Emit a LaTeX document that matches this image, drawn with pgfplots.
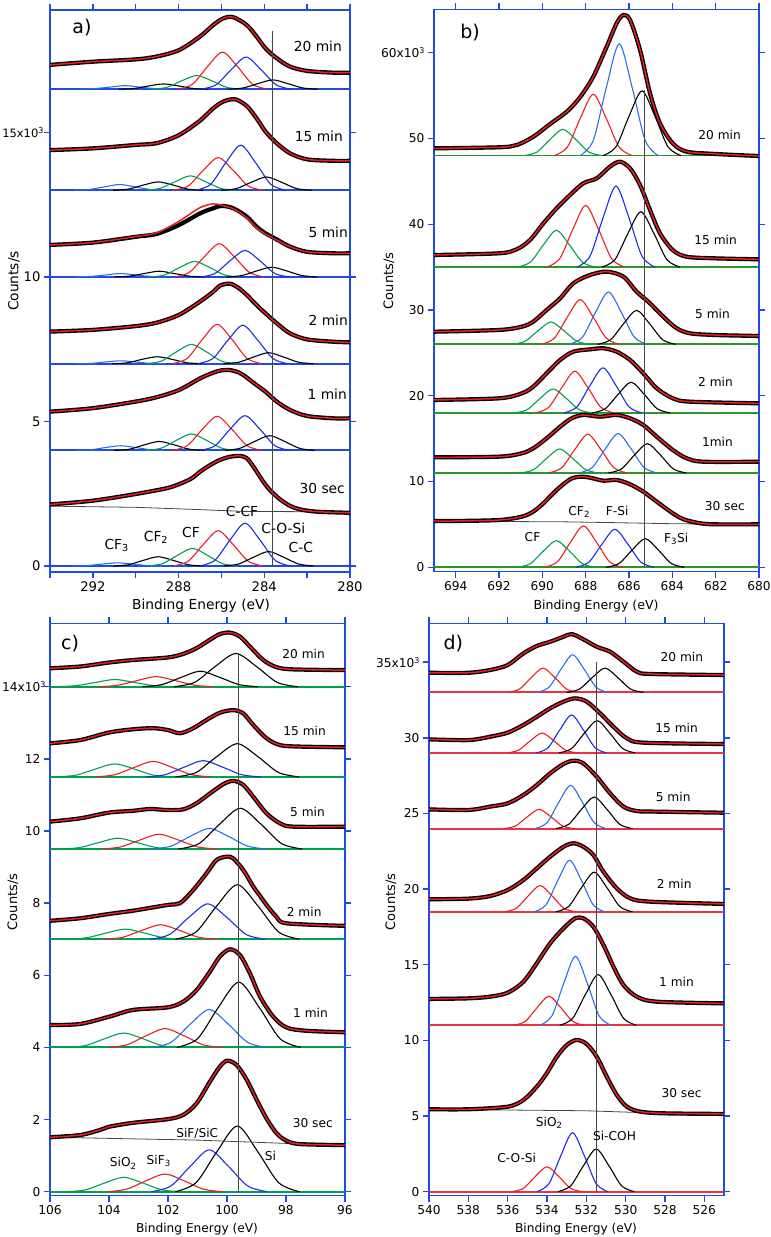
\documentclass[border=0pt]{standalone}
\usepackage{fontspec}
\setmainfont{DejaVu Sans}
\usepackage{pgfplots}
\pgfplotsset{compat=1.18}
\usepackage{pgfplotstable}

\definecolor{axb}{RGB}{30,75,225}
\definecolor{cblue}{RGB}{25,45,230}
\definecolor{lblue}{RGB}{40,110,235}
\definecolor{cgreen}{RGB}{0,160,80}
\definecolor{bgreen}{RGB}{40,150,40}
\definecolor{cred}{RGB}{235,30,35}
\definecolor{dred}{RGB}{235,50,70}
\definecolor{vline}{RGB}{70,70,70}

\newcommand{\fa}{\fontsize{13.2}{15}\selectfont}
\newcommand{\fb}{\fontsize{12.2}{14}\selectfont}
\newcommand{\cube}{\raisebox{0.6ex}{\fontsize{8}{8}\selectfont 3}}

\pgfplotsset{
 myax/.style={scale only axis, x dir=reverse,
   axis line style={draw=axb,line width=1.4pt},
   tick style={draw=axb,line width=1.4pt},
   tick align=outside, major tick length=6pt,
   xtick pos=both, ytick pos=both, xticklabel pos=lower, yticklabel pos=left,
   /pgf/number format/assume math mode=true, minor tick num=0},
 dat/.style={black, line width=4.2pt, smooth, no markers, line join=round},
 fit/.style={cred, line width=1.5pt, smooth, no markers},
 cp/.style={line width=1.1pt, smooth, no markers},
 bl/.style={line width=2pt, no markers},
 vl/.style={vline, line width=0.8pt, no markers},
}

% ---------- panel a data ----------
\pgfplotstableread{
x y
294 2.13
292 2.26
290 2.49
288.56 2.69
287.98 2.83
287.39 3.03
287 3.26
286.53 3.49
286.07 3.67
285.6 3.78
285.14 3.81
284.82 3.73
284.51 3.44
284.05 2.92
283.74 2.63
283.27 2.31
282.8 2.08
282.34 1.96
281.56 1.88
280 1.84
}\aS
\pgfplotstableread{
x y
294 5.34
292 5.46
290 5.69
289.02 5.84
287.98 6.09
287 6.49
286.38 6.69
286 6.77
285.6 6.78
285.2 6.70
284.98 6.61
284.36 6.26
283.94 6.03
283.42 5.69
282.8 5.40
282 5.19
280.78 5.11
280 5.11
}\aA
\pgfplotstableread{
x y
294 8.11
292 8.17
290 8.30
289.02 8.42
287.98 8.69
287 9.15
286.38 9.49
286.07 9.70
285.6 9.77
285.2 9.62
284.82 9.38
284.36 9.03
283.94 8.74
283.42 8.40
282.8 8.05
282 7.84
280.78 7.76
280 7.74
}\aB
\pgfplotstableread{
x y
294 11.11
292 11.19
290 11.39
289.02 11.49
287.98 11.80
287 12.20
286.38 12.38
285.99 12.46
285.45 12.38
284.82 12.09
284.36 11.74
283.94 11.51
283.42 11.30
282.8 11.05
282 10.87
280.78 10.82
280 10.82
}\aC
\pgfplotstableread{
x y
294 11.11
292 11.19
290 11.40
289.02 11.53
287.98 11.93
287 12.40
286.38 12.53
285.99 12.48
285.45 12.36
284.82 12.05
284.36 11.70
283.94 11.48
283.42 11.28
282.8 11.05
282 10.87
280.78 10.82
280 10.82
}\aF
\pgfplotstableread{
x y
294 14.39
292 14.45
290 14.57
289.02 14.63
287.98 14.91
287 15.41
286.38 15.84
285.91 16.07
285.37 16.15
284.82 15.92
284.36 15.49
283.94 15.03
283.42 14.63
282.8 14.28
282 14.07
280.78 14.02
280 14.02
}\aD
\pgfplotstableread{
x y
294 17.34
292 17.45
290 17.53
289.02 17.63
287.98 17.85
287 18.32
286.38 18.72
285.91 18.95
285.45 18.99
284.82 18.72
284.36 18.32
283.94 17.91
283.42 17.57
282.8 17.28
282 17.13
280.78 17.07
280 17.07
}\aE

% ---------- panel b data ----------
\pgfplotstableread{
x y
695 5.40
694 5.40
692 5.51
690.95 5.90
690.42 6.49
689.95 7.46
689.34 9.01
688.72 10.26
688.26 10.56
687.8 10.45
687.18 10.10
686.57 10.18
685.98 9.71
685.34 8.82
684.72 7.65
683.98 6.30
683.49 5.60
682.72 5.13
682 5.01
680 5.01
}\bS
\pgfplotstableread{
x y
695 12.82
692 12.90
690.95 13.29
690.42 13.87
689.8 15.04
689.18 16.39
688.65 17.37
688.11 17.76
687.34 17.56
686.57 17.76
685.95 17.37
685.34 16.59
684.72 15.23
683.98 13.68
683.34 12.71
682.57 12.31
680 12.31
}\bA
\pgfplotstableread{
x y
695 19.51
692 19.70
690.95 20.28
690.42 21.06
689.8 22.62
689.18 24.17
688.57 25.14
687.8 25.41
687.18 25.53
686.57 25.14
685.95 24.17
685.34 22.62
684.72 20.87
683.98 19.70
683.18 19.31
680 19.12
}\bB
\pgfplotstableread{
x y
695 27.47
692 27.67
690.95 28.05
690.42 28.64
689.8 30.00
689.18 31.36
688.57 33.11
687.8 34.08
687.03 34.47
686.26 33.89
685.65 32.14
685.03 30.78
684.42 29.22
683.8 27.87
683.18 27.28
682 27.08
680 26.97
}\bC
\pgfplotstableread{
x y
695 36.41
692 36.61
691.18 37.08
690.57 38.16
689.95 40.11
689.34 41.86
688.72 43.41
688.11 44.77
687.49 45.35
686.88 46.71
686.42 47.29
685.95 46.52
685.49 44.57
685.03 41.66
684.57 38.94
683.98 36.99
683.34 36.21
682 36.02
680 35.91
}\bD
\pgfplotstableread{
x y
695 48.85
692 48.97
691.18 49.24
690.42 50.20
689.65 51.67
688.88 53.10
688.26 54.80
687.65 57.20
687.03 60.70
686.57 63.43
686.26 64.39
685.95 63.81
685.49 60.31
685.03 55.26
684.57 51.77
683.98 49.43
683.34 48.46
682 48.19
680 47.95
}\bE

% ---------- panel c data ----------
\pgfplotstableread{
x y
106 1.51
104.98 1.57
104.31 1.71
104 1.80
103.18 1.91
102.01 2.01
101.48 2.13
101.03 2.45
100.58 3.05
100.24 3.47
99.99 3.63
99.67 3.51
99.33 3.10
98.99 2.54
98.66 2.03
98.32 1.62
97.98 1.41
97.53 1.32
96 1.29
}\cS
\pgfplotstableread{
x y
106 4.62
104.98 4.65
104 4.85
103.18 5.04
102.01 5.11
101.48 5.27
101.03 5.59
100.58 6.10
100.24 6.52
99.9 6.72
99.56 6.56
99.22 6.05
98.88 5.41
98.43 4.85
97.98 4.55
97.3 4.46
96 4.42
}\cA
\pgfplotstableread{
x y
106 7.51
104.98 7.58
104 7.70
103.18 7.79
102.01 7.95
101.59 8.00
101.14 8.37
100.69 8.83
100.35 9.20
99.99 9.29
99.79 9.24
99.45 8.92
99.11 8.46
98.88 8.20
98.66 7.95
98.32 7.62
97.98 7.44
96 7.37
}\cB
\pgfplotstableread{
x y
106 10.26
104.98 10.35
104 10.51
103.18 10.56
102.61 10.61
102.01 10.58
101.48 10.60
101.03 10.77
100.58 11.04
100.12 11.30
99.79 11.39
99.45 11.28
99.11 10.95
98.66 10.49
98.2 10.21
97.75 10.12
96 10.12
}\cC
\pgfplotstableread{
x y
106 12.43
104.98 12.52
104 12.73
103.18 12.82
102.5 12.85
102.01 12.80
101.59 12.71
101.14 12.85
100.69 13.08
100.24 13.28
99.79 13.35
99.45 13.26
99.11 12.94
98.66 12.57
98.2 12.38
97.53 12.34
96 12.32
}\cD
\pgfplotstableread{
x y
106 14.51
104.98 14.56
104 14.67
103.18 14.74
102.01 14.81
101.48 14.91
101.03 15.07
100.58 15.30
100.24 15.46
99.9 15.50
99.56 15.39
99.22 15.11
98.77 14.74
98.32 14.54
97.75 14.48
96 14.46
}\cE

% ---------- panel d data ----------
\pgfplotstableread{
x y
540 5.45
538 5.45
536 5.62
535.2 6.06
534.52 6.94
534.01 7.83
533.5 8.92
532.99 9.70
532.49 10.03
531.98 9.76
531.47 8.92
530.96 7.60
530.45 6.39
529.94 5.62
529.26 5.29
528 5.18
525 5.14
}\dS
\pgfplotstableread{
x y
540 12.74
538 12.78
536.9 12.89
536 13.15
535.2 13.88
534.52 15.10
533.84 16.42
533.16 17.41
532.57 18.07
532.15 18.07
531.64 17.51
531.13 16.31
530.62 14.87
530.11 13.66
529.43 12.89
528.41 12.56
525 12.45
}\dA
\pgfplotstableread{
x y
540 19.33
538 19.37
536.9 19.54
536 19.94
535.2 20.60
534.52 21.37
533.84 22.14
533.16 22.80
532.65 23.03
532.15 22.80
531.64 22.25
531.13 21.15
530.45 20.05
529.77 19.39
528.75 19.17
525 19.02
}\dB
\pgfplotstableread{
x y
540 25.27
538 25.23
536.9 25.45
536 25.67
535.2 26.22
534.52 26.88
533.84 27.65
533.16 28.27
532.65 28.49
532.15 28.31
531.47 27.43
530.79 26.33
530.11 25.45
529.43 25.16
528.41 25.12
525 25.05
}\dC
\pgfplotstableread{
x y
540 29.90
538 29.85
536.9 30.07
536 30.34
535.2 30.85
534.52 31.39
533.84 31.95
533.16 32.39
532.57 32.61
531.98 32.39
531.3 31.62
530.62 30.73
529.94 29.97
529.09 29.68
525 29.59
}\dD
\pgfplotstableread{
x y
540 34.30
538 34.30
536.9 34.48
536 34.81
535.2 35.58
534.52 36.07
533.84 36.35
533.16 36.68
532.74 36.86
532.15 36.51
531.47 36.02
530.79 35.69
530.11 35.03
529.43 34.37
528.75 34.22
525 34.15
}\dE

\begin{document}
\begin{tikzpicture}
\useasboundingbox (0pt,0pt) rectangle (771pt,1237pt);

% ================= PANEL A =================
\begin{axis}[myax, at={(50pt,665pt)}, anchor=south west, width=300pt, height=562pt,
  xmin=280, xmax=294, ymin=-0.2076, ymax=19.239,
  xtick={280,282,284,286,288,290,292,294}, xticklabels={280,,284,,288,,292,},
  ytick={0,5,10,15}, yticklabels={0,5,10,{\fontsize{11.5}{13}\selectfont 15x10\cube\kern-3pt}},
  ticklabel style={font=\fa}]
\addplot[bl,axb] coordinates {(280,0) (294,0)};
\addplot[bl,axb] coordinates {(280,4) (294,4)};
\addplot[bl,axb] coordinates {(280,7) (294,7)};
\addplot[bl,axb] coordinates {(280,10) (294,10)};
\addplot[bl,axb] coordinates {(280,13) (294,13)};
\addplot[bl,axb] coordinates {(280,16.5) (294,16.5)};
% 30 sec components
\addplot[cp,lblue] coordinates {(288.75,0) (289.45,0.015) (290.15,0.067) (290.85,0.11) (291.55,0.067) (292.25,0.015) (292.95,0)};
\addplot[cp,black] coordinates {(286.85,0) (287.55,0.043) (288.25,0.194) (288.95,0.32) (289.65,0.194) (290.35,0.043) (291.05,0)};
\addplot[cp,cgreen] coordinates {(285.25,0) (285.95,0.082) (286.65,0.37) (287.35,0.61) (288.05,0.37) (288.75,0.082) (289.45,0)};
\addplot[cp,cred] coordinates {(284.05,0) (284.75,0.165) (285.45,0.741) (286.15,1.22) (286.85,0.741) (287.55,0.165) (288.25,0)};
\addplot[cp,cblue] coordinates {(282.8,0) (283.5,0.2) (284.2,0.898) (284.9,1.48) (285.6,0.898) (286.3,0.2) (287,0)};
\addplot[cp,black] coordinates {(281.7,0) (282.4,0.068) (283.1,0.304) (283.8,0.5) (284.5,0.304) (285.2,0.068) (285.9,0)};
% 1 min
\addplot[cp,lblue] coordinates {(288.6,4) (289.3,4.02) (290,4.1) (290.7,4.16) (291.4,4.1) (292.1,4.02) (292.8,4)};
\addplot[cp,black] coordinates {(286.8,4) (287.5,4.04) (288.2,4.19) (288.9,4.31) (289.6,4.19) (290.3,4.04) (291,4)};
\addplot[cp,cgreen] coordinates {(285.3,4) (286,4.08) (286.7,4.35) (287.4,4.57) (288.1,4.35) (288.8,4.08) (289.5,4)};
\addplot[cp,cred] coordinates {(284.1,4) (284.8,4.16) (285.5,4.72) (286.2,5.18) (286.9,4.72) (287.6,4.16) (288.3,4)};
\addplot[cp,cblue] coordinates {(282.8,4) (283.5,4.16) (284.2,4.73) (284.9,5.2) (285.6,4.73) (286.3,4.16) (287,4)};
\addplot[cp,black] coordinates {(281.65,4) (282.35,4.07) (283.05,4.31) (283.75,4.51) (284.45,4.31) (285.15,4.07) (285.85,4)};
% 2 min
\addplot[cp,lblue] coordinates {(288.6,7) (289.3,7.01) (290,7.06) (290.7,7.1) (291.4,7.06) (292.1,7.01) (292.8,7)};
\addplot[cp,black] coordinates {(286.9,7) (287.6,7.03) (288.3,7.15) (289,7.24) (289.7,7.15) (290.4,7.03) (291.1,7)};
\addplot[cp,cgreen] coordinates {(285.3,7) (286,7.09) (286.7,7.41) (287.4,7.67) (288.1,7.41) (288.8,7.09) (289.5,7)};
\addplot[cp,cred] coordinates {(284.1,7) (284.8,7.18) (285.5,7.83) (286.2,8.36) (286.9,7.83) (287.6,7.18) (288.3,7)};
\addplot[cp,cblue] coordinates {(282.9,7) (283.6,7.18) (284.3,7.81) (285,8.33) (285.7,7.81) (286.4,7.18) (287.1,7)};
\addplot[cp,black] coordinates {(281.7,7) (282.4,7.05) (283.1,7.23) (283.8,7.38) (284.5,7.23) (285.2,7.05) (285.9,7)};
% 5 min
\addplot[cp,lblue] coordinates {(288.6,10) (289.3,10.02) (290,10.07) (290.7,10.12) (291.4,10.07) (292.1,10.02) (292.8,10)};
\addplot[cp,black] coordinates {(286.8,10) (287.5,10.03) (288.2,10.12) (288.9,10.2) (289.6,10.12) (290.3,10.03) (291,10)};
\addplot[cp,cgreen] coordinates {(285.15,10) (285.85,10.07) (286.55,10.33) (287.25,10.54) (287.95,10.33) (288.65,10.07) (289.35,10)};
\addplot[cp,cred] coordinates {(284,10) (284.7,10.16) (285.4,10.7) (286.1,11.15) (286.8,10.7) (287.5,10.16) (288.2,10)};
\addplot[cp,cblue] coordinates {(282.8,10) (283.5,10.12) (284.2,10.56) (284.9,10.92) (285.6,10.56) (286.3,10.12) (287,10)};
\addplot[cp,black] coordinates {(281.55,10) (282.25,10.05) (282.95,10.21) (283.65,10.34) (284.35,10.21) (285.05,10.05) (285.75,10)};
% 15 min
\addplot[cp,lblue] coordinates {(288.65,13) (289.35,13.03) (290.05,13.12) (290.75,13.2) (291.45,13.12) (292.15,13.03) (292.85,13)};
\addplot[cp,black] coordinates {(286.85,13) (287.55,13.04) (288.25,13.18) (288.95,13.29) (289.65,13.18) (290.35,13.04) (291.05,13)};
\addplot[cp,cgreen] coordinates {(285.35,13) (286.05,13.07) (286.75,13.3) (287.45,13.5) (288.15,13.3) (288.85,13.07) (289.55,13)};
\addplot[cp,cred] coordinates {(284.05,13) (284.75,13.15) (285.45,13.69) (286.15,14.13) (286.85,13.69) (287.55,13.15) (288.25,13)};
\addplot[cp,cblue] coordinates {(283,13) (283.7,13.21) (284.4,13.95) (285.1,14.56) (285.8,13.95) (286.5,13.21) (287.2,13)};
\addplot[cp,black] coordinates {(281.8,13) (282.5,13.06) (283.2,13.28) (283.9,13.46) (284.6,13.28) (285.3,13.06) (286,13)};
% 20 min
\addplot[cp,lblue] coordinates {(288.4,16.5) (289.1,16.52) (289.8,16.57) (290.5,16.62) (291.2,16.57) (291.9,16.52) (292.6,16.5)};
\addplot[cp,black] coordinates {(286.6,16.5) (287.3,16.52) (288,16.61) (288.7,16.68) (289.4,16.61) (290.1,16.52) (290.8,16.5)};
\addplot[cp,cgreen] coordinates {(285.05,16.5) (285.75,16.56) (286.45,16.79) (287.15,16.97) (287.85,16.79) (288.55,16.56) (289.25,16.5)};
\addplot[cp,cred] coordinates {(283.85,16.5) (284.55,16.67) (285.25,17.28) (285.95,17.78) (286.65,17.28) (287.35,16.67) (288.05,16.5)};
\addplot[cp,cblue] coordinates {(282.75,16.5) (283.45,16.65) (284.15,17.17) (284.85,17.61) (285.55,17.17) (286.25,16.65) (286.95,16.5)};
\addplot[cp,black] coordinates {(281.5,16.5) (282.2,16.54) (282.9,16.69) (283.6,16.82) (284.3,16.69) (285,16.54) (285.7,16.5)};
% background, data, fits
\addplot[vl] coordinates {(294,2.07) (290,2.03) (287,1.95) (285,1.89) (280,1.87)};
\addplot[dat] table {\aS}; \addplot[fit] table {\aS};
\addplot[dat] table {\aA}; \addplot[fit] table {\aA};
\addplot[dat] table {\aB}; \addplot[fit] table {\aB};
\addplot[dat] table {\aC}; \addplot[fit] table {\aF};
\addplot[dat] table {\aD}; \addplot[fit] table {\aD};
\addplot[dat] table {\aE}; \addplot[fit] table {\aE};
\addplot[vl] coordinates {(283.63,0) (283.63,18.52)};
\end{axis}

% ================= PANEL B =================
\begin{axis}[myax, at={(434pt,665.3pt)}, anchor=south west, width=325pt, height=562.4pt,
  xmin=680, xmax=695, ymin=-0.513, ymax=65.06,
  xtick={680,682,...,694},
  ytick={0,10,...,60}, yticklabels={0,10,20,30,40,50,{60x10\cube}},
  ticklabel style={font=\fb}]
\addplot[bl,bgreen,line width=1.6pt] coordinates {(680,0) (695,0)};
\addplot[bl,bgreen,line width=1.6pt] coordinates {(680,11) (695,11)};
\addplot[bl,bgreen,line width=1.6pt] coordinates {(680,18) (695,18)};
\addplot[bl,bgreen,line width=1.6pt] coordinates {(680,26) (695,26)};
\addplot[bl,bgreen,line width=1.6pt] coordinates {(680,35) (695,35)};
\addplot[bl,bgreen,line width=1.6pt] coordinates {(680,48) (695,48)};
% 30 sec
\addplot[cp,cgreen] coordinates {(687.55,0) (688.15,0.42) (688.75,1.89) (689.35,3.11) (689.95,1.89) (690.55,0.42) (691.15,0)};
\addplot[cp,cred] coordinates {(686.3,0) (686.9,0.65) (687.5,2.93) (688.1,4.82) (688.7,2.93) (689.3,0.65) (689.9,0)};
\addplot[cp,cblue] coordinates {(684.85,0) (685.45,0.6) (686.05,2.69) (686.65,4.43) (687.25,2.69) (687.85,0.6) (688.45,0)};
\addplot[cp,black] coordinates {(683.45,0) (684.05,0.45) (684.65,2.03) (685.25,3.34) (685.85,2.03) (686.45,0.45) (687.05,0)};
% 1 min
\addplot[cp,cgreen] coordinates {(687.4,11) (688,11.38) (688.6,12.7) (689.2,13.8) (689.8,12.7) (690.4,11.38) (691,11)};
\addplot[cp,cred] coordinates {(686.1,11) (686.7,11.61) (687.3,13.74) (687.9,15.51) (688.5,13.74) (689.1,11.61) (689.7,11)};
\addplot[cp,lblue] coordinates {(684.7,11) (685.3,11.62) (685.9,13.79) (686.5,15.59) (687.1,13.79) (687.7,11.62) (688.3,11)};
\addplot[cp,black] coordinates {(683.35,11) (683.95,11.46) (684.55,13.08) (685.15,14.42) (685.75,13.08) (686.35,11.46) (686.95,11)};
% 2 min
\addplot[cp,cgreen] coordinates {(687.7,18) (688.3,18.38) (688.9,19.7) (689.5,20.8) (690.1,19.7) (690.7,18.38) (691.3,18)};
\addplot[cp,cred] coordinates {(686.7,18) (687.3,18.66) (687.9,20.95) (688.5,22.86) (689.1,20.95) (689.7,18.66) (690.3,18)};
\addplot[cp,cblue] coordinates {(685.4,18) (686,18.71) (686.6,21.19) (687.2,23.25) (687.8,21.19) (688.4,18.71) (689,18)};
\addplot[cp,black] coordinates {(684.1,18) (684.7,18.48) (685.3,20.17) (685.9,21.58) (686.5,20.17) (687.1,18.48) (687.7,18)};
% 5 min
\addplot[cp,cgreen] coordinates {(687.8,26) (688.4,26.35) (689,27.58) (689.6,28.6) (690.2,27.58) (690.8,26.35) (691.4,26)};
\addplot[cp,cred] coordinates {(686.45,26) (687.05,26.7) (687.65,29.16) (688.25,31.21) (688.85,29.16) (689.45,26.7) (690.05,26)};
\addplot[cp,lblue] coordinates {(685.15,26) (685.75,26.82) (686.35,29.7) (686.95,32.1) (687.55,29.7) (688.15,26.82) (688.75,26)};
\addplot[cp,black] coordinates {(683.85,26) (684.45,26.53) (685.05,28.4) (685.65,29.96) (686.25,28.4) (686.85,26.53) (687.45,26)};
% 15 min
\addplot[cp,cgreen] coordinates {(687.55,35) (688.15,35.58) (688.75,37.6) (689.35,39.28) (689.95,37.6) (690.55,35.58) (691.15,35)};
\addplot[cp,cred] coordinates {(686.2,35) (686.8,35.97) (687.4,39.36) (688,42.19) (688.6,39.36) (689.2,35.97) (689.8,35)};
\addplot[cp,cblue] coordinates {(684.8,35) (685.4,36.27) (686,40.73) (686.6,44.44) (687.2,40.73) (687.8,36.27) (688.4,35)};
\addplot[cp,black] coordinates {(683.65,35) (684.25,35.87) (684.85,38.92) (685.45,41.45) (686.05,38.92) (686.65,35.87) (687.25,35)};
% 20 min
\addplot[cp,cgreen] coordinates {(687.25,48) (687.85,48.41) (688.45,49.86) (689.05,51.07) (689.65,49.86) (690.25,48.41) (690.85,48)};
\addplot[cp,cred] coordinates {(685.85,48) (686.45,48.97) (687.05,52.34) (687.65,55.15) (688.25,52.34) (688.85,48.97) (689.45,48)};
\addplot[cp,lblue] coordinates {(684.65,48) (685.25,49.76) (685.85,55.9) (686.45,61.02) (687.05,55.9) (687.65,49.76) (688.25,48)};
\addplot[cp,black] coordinates {(683.6,48) (684.2,49.02) (684.8,52.58) (685.4,55.54) (686,52.58) (686.6,49.02) (687.2,48)};
\addplot[vl] coordinates {(695,5.38) (689,5.3) (687,5.22) (684,5.08) (680,5.0)};
\addplot[dat] table {\bS}; \addplot[fit] table {\bS};
\addplot[dat] table {\bA}; \addplot[fit] table {\bA};
\addplot[dat] table {\bB}; \addplot[fit] table {\bB};
\addplot[dat] table {\bC}; \addplot[fit] table {\bC};
\addplot[dat] table {\bD}; \addplot[fit] table {\bD};
\addplot[dat] table {\bE}; \addplot[fit] table {\bE};
\addplot[vl] coordinates {(685.31,0) (685.31,55.65)};
\end{axis}

% ================= PANEL C =================
\begin{axis}[myax, at={(50pt,41.3pt)}, anchor=south west, width=295pt, height=572.4pt,
  xmin=96, xmax=106, ymin=-0.111, ymax=15.758,
  xtick={96,98,...,106},
  ytick={0,2,...,14}, yticklabels={0,2,4,6,8,10,12,{14x10\cube\kern-5pt}},
  ticklabel style={font=\fb}]
\addplot[bl,cgreen] coordinates {(96,0) (106,0)};
\addplot[bl,cgreen] coordinates {(96,4) (106,4)};
\addplot[bl,cgreen] coordinates {(96,7) (106,7)};
\addplot[bl,cgreen] coordinates {(96,9.5) (106,9.5)};
\addplot[bl,cgreen] coordinates {(96,11.5) (106,11.5)};
\addplot[bl,cgreen] coordinates {(96,14) (106,14)};
% 30 sec
\addplot[cp,cgreen] coordinates {(101.55,0) (102.2,0.05) (102.85,0.24) (103.5,0.4) (104.15,0.24) (104.8,0.05) (105.45,0)};
\addplot[cp,cred] coordinates {(100.15,0) (100.8,0.07) (101.45,0.3) (102.1,0.49) (102.75,0.3) (103.4,0.07) (104.05,0)};
\addplot[cp,cblue] coordinates {(98.65,0) (99.3,0.16) (99.95,0.7) (100.6,1.16) (101.25,0.7) (101.9,0.16) (102.55,0)};
\addplot[cp,black] coordinates {(97.55,0) (98.25,0.25) (98.95,1.1) (99.65,1.82) (100.35,1.1) (101.05,0.25) (101.75,0)};
% 1 min
\addplot[cp,cgreen] coordinates {(101.55,4) (102.2,4.05) (102.85,4.24) (103.5,4.4) (104.15,4.24) (104.8,4.05) (105.45,4)};
\addplot[cp,cred] coordinates {(100.15,4) (100.8,4.07) (101.45,4.32) (102.1,4.52) (102.75,4.32) (103.4,4.07) (104.05,4)};
\addplot[cp,lblue] coordinates {(98.65,4) (99.3,4.14) (99.95,4.64) (100.6,5.05) (101.25,4.64) (101.9,4.14) (102.55,4)};
\addplot[cp,black] coordinates {(97.5,4) (98.2,4.24) (98.9,5.1) (99.6,5.81) (100.3,5.1) (101,4.24) (101.7,4)};
% 2 min
\addplot[cp,cgreen] coordinates {(101.5,7) (102.15,7.04) (102.8,7.17) (103.45,7.28) (104.1,7.17) (104.75,7.04) (105.4,7)};
\addplot[cp,cred] coordinates {(100.3,7) (100.95,7.05) (101.6,7.24) (102.25,7.4) (102.9,7.24) (103.55,7.05) (104.2,7)};
\addplot[cp,cblue] coordinates {(98.7,7) (99.35,7.13) (100,7.6) (100.65,7.98) (101.3,7.6) (101.95,7.13) (102.6,7)};
\addplot[cp,black] coordinates {(97.55,7) (98.25,7.2) (98.95,7.92) (99.65,8.51) (100.35,7.92) (101.05,7.2) (101.75,7)};
% 5 min
\addplot[cp,cgreen] coordinates {(101.75,9.5) (102.4,9.54) (103.05,9.68) (103.7,9.8) (104.35,9.68) (105,9.54) (105.65,9.5)};
\addplot[cp,cred] coordinates {(100.35,9.5) (101,9.56) (101.65,9.75) (102.3,9.91) (102.95,9.75) (103.6,9.56) (104.25,9.5)};
\addplot[cp,lblue] coordinates {(98.65,9.5) (99.3,9.58) (99.95,9.85) (100.6,10.07) (101.25,9.85) (101.9,9.58) (102.55,9.5)};
\addplot[cp,black] coordinates {(97.45,9.5) (98.15,9.65) (98.85,10.19) (99.55,10.63) (100.25,10.19) (100.95,9.65) (101.65,9.5)};
% 15 min
\addplot[cp,cgreen] coordinates {(101.85,11.5) (102.5,11.55) (103.15,11.72) (103.8,11.86) (104.45,11.72) (105.1,11.55) (105.75,11.5)};
\addplot[cp,cred] coordinates {(100.55,11.5) (101.2,11.56) (101.85,11.76) (102.5,11.93) (103.15,11.76) (103.8,11.56) (104.45,11.5)};
\addplot[cp,cblue] coordinates {(98.85,11.5) (99.5,11.56) (100.15,11.77) (100.8,11.95) (101.45,11.77) (102.1,11.56) (102.75,11.5)};
\addplot[cp,black] coordinates {(97.55,11.5) (98.25,11.62) (98.95,12.06) (99.65,12.42) (100.35,12.06) (101.05,11.62) (101.75,11.5)};
% 20 min
\addplot[cp,cgreen] coordinates {(101.85,14) (102.5,14.03) (103.15,14.12) (103.8,14.2) (104.45,14.12) (105.1,14.03) (105.75,14)};
\addplot[cp,cred] coordinates {(100.45,14) (101.1,14.04) (101.75,14.17) (102.4,14.28) (103.05,14.17) (103.7,14.04) (104.35,14)};
\addplot[cp,black] coordinates {(98.95,14) (99.6,14.06) (100.25,14.26) (100.9,14.43) (101.55,14.26) (102.2,14.06) (102.85,14)};
\addplot[cp,black] coordinates {(97.6,14) (98.3,14.12) (99,14.56) (99.7,14.92) (100.4,14.56) (101.1,14.12) (101.8,14)};
\addplot[vl] coordinates {(106,1.51) (101,1.43) (98.7,1.36) (96,1.28)};
\addplot[dat] table {\cS}; \addplot[fit] table {\cS};
\addplot[dat] table {\cA}; \addplot[fit] table {\cA};
\addplot[dat] table {\cB}; \addplot[fit] table {\cB};
\addplot[dat] table {\cC}; \addplot[fit] table {\cC};
\addplot[dat] table {\cD}; \addplot[fit] table {\cD};
\addplot[dat] table {\cE}; \addplot[fit] table {\cE};
\addplot[vl] coordinates {(99.62,0) (99.62,14.93)};
\end{axis}

% ================= PANEL D =================
\begin{axis}[myax, at={(429pt,41.3pt)}, anchor=south west, width=295pt, height=572.4pt,
  xmin=525, xmax=540, ymin=-0.264, ymax=37.57,
  xtick={526,528,...,540},
  ytick={0,5,...,35}, yticklabels={0,5,10,15,20,25,30,{35x10\cube}},
  ticklabel style={font=\fb}]
\addplot[bl,dred] coordinates {(525,0) (540,0)};
\addplot[bl,dred] coordinates {(525,11) (540,11)};
\addplot[bl,dred] coordinates {(525,18.5) (540,18.5)};
\addplot[bl,dred] coordinates {(525,24) (540,24)};
\addplot[bl,dred] coordinates {(525,29) (540,29)};
\addplot[bl,dred] coordinates {(525,33) (540,33)};
% 30 sec
\addplot[cp,cred] coordinates {(532.2,0) (532.8,0.22) (533.4,1.0) (534,1.65) (534.6,1.0) (535.2,0.22) (535.8,0)};
\addplot[cp,cblue] coordinates {(530.9,0) (531.5,0.53) (532.1,2.37) (532.7,3.9) (533.3,2.37) (533.9,0.53) (534.5,0)};
\addplot[cp,black] coordinates {(529.55,0) (530.2,0.38) (530.85,1.71) (531.5,2.82) (532.15,1.71) (532.8,0.38) (533.45,0)};
% 1 min
\addplot[cp,cred] coordinates {(532.1,11) (532.7,11.26) (533.3,12.17) (533.9,12.92) (534.5,12.17) (535.1,11.26) (535.7,11)};
\addplot[cp,lblue] coordinates {(530.75,11) (531.35,11.62) (531.95,13.77) (532.55,15.56) (533.15,13.77) (533.75,11.62) (534.35,11)};
\addplot[cp,black] coordinates {(529.45,11) (530.1,11.45) (530.75,13.03) (531.4,14.35) (532.05,13.03) (532.7,11.45) (533.35,11)};
% 2 min
\addplot[cp,cred] coordinates {(532.55,18.5) (533.15,18.74) (533.75,19.56) (534.35,20.24) (534.95,19.56) (535.55,18.74) (536.15,18.5)};
\addplot[cp,lblue] coordinates {(531.05,18.5) (531.65,18.96) (532.25,20.57) (532.85,21.91) (533.45,20.57) (534.05,18.96) (534.65,18.5)};
\addplot[cp,black] coordinates {(529.65,18.5) (530.3,18.85) (530.95,20.09) (531.6,21.12) (532.25,20.09) (532.9,18.85) (533.55,18.5)};
% 5 min
\addplot[cp,cred] coordinates {(532.6,24) (533.2,24.17) (533.8,24.78) (534.4,25.28) (535,24.78) (535.6,24.17) (536.2,24)};
\addplot[cp,lblue] coordinates {(531,24) (531.6,24.39) (532.2,25.74) (532.8,26.86) (533.4,25.74) (534,24.39) (534.6,24)};
\addplot[cp,black] coordinates {(529.65,24) (530.3,24.28) (530.95,25.27) (531.6,26.09) (532.25,25.27) (532.9,24.28) (533.55,24)};
% 15 min
\addplot[cp,cred] coordinates {(532.45,29) (533.05,29.18) (533.65,29.8) (534.25,30.32) (534.85,29.8) (535.45,29.18) (536.05,29)};
\addplot[cp,cblue] coordinates {(530.95,29) (531.55,29.34) (532.15,30.52) (532.75,31.51) (533.35,30.52) (533.95,29.34) (534.55,29)};
\addplot[cp,black] coordinates {(529.5,29) (530.15,29.29) (530.8,30.3) (531.45,31.14) (532.1,30.3) (532.75,29.29) (533.4,29)};
% 20 min
\addplot[cp,cred] coordinates {(532.4,33) (533,33.22) (533.6,33.98) (534.2,34.61) (534.8,33.98) (535.4,33.22) (536,33)};
\addplot[cp,lblue] coordinates {(530.9,33) (531.5,33.34) (532.1,34.51) (532.7,35.49) (533.3,34.51) (533.9,33.34) (534.5,33)};
\addplot[cp,black] coordinates {(529.1,33) (529.75,33.22) (530.4,33.98) (531.05,34.61) (531.7,33.98) (532.35,33.22) (533,33)};
\addplot[vl] coordinates {(540,5.45) (532,5.35) (529,5.22) (525,5.14)};
\addplot[dat] table {\dS}; \addplot[fit] table {\dS};
\addplot[dat] table {\dA}; \addplot[fit] table {\dA};
\addplot[dat] table {\dB}; \addplot[fit] table {\dB};
\addplot[dat] table {\dC}; \addplot[fit] table {\dC};
\addplot[dat] table {\dD}; \addplot[fit] table {\dD};
\addplot[dat] table {\dE}; \addplot[fit] table {\dE};
\addplot[vl] coordinates {(531.47,0) (531.47,35.03)};
\end{axis}

% ================= TEXT =================
\begin{scope}[every node/.style={inner sep=0pt}]
\node[font=\fontsize{19}{22}\selectfont] at (82pt,1209pt) {a)};
\node[font=\fontsize{19}{22}\selectfont] at (470pt,1204pt) {b)};
\node[font=\fontsize{19}{22}\selectfont] at (70pt,593.7pt) {c)};
\node[font=\fontsize{19}{22}\selectfont] at (453.3pt,593.7pt) {d)};
\node[rotate=90,font=\fontsize{13.8}{16}\selectfont] at (14pt,956pt) {Counts/s};
\node[rotate=90,font=\fontsize{13}{16}\selectfont] at (389pt,956pt) {Counts/s};
\node[rotate=90,font=\fontsize{13}{16}\selectfont] at (13pt,335pt) {Counts/s};
\node[rotate=90,font=\fontsize{13}{16}\selectfont] at (391pt,335pt) {Counts/s};
\node[font=\fontsize{13.8}{16}\selectfont] at (201pt,631pt) {Binding Energy (eV)};
\node[font=\fontsize{12.5}{15}\selectfont] at (596pt,631pt) {Binding Energy (eV)};
\node[font=\fontsize{12.2}{15}\selectfont] at (197pt,8pt) {Binding Energy (eV)};
\node[font=\fontsize{12.2}{15}\selectfont] at (576pt,8pt) {Binding Energy (eV)};
% panel a
\node[font=\fontsize{13.8}{16}\selectfont,anchor=east] at (342pt,1191pt) {20 min};
\node[font=\fontsize{13.8}{16}\selectfont,anchor=east] at (343pt,1101pt) {15 min};
\node[font=\fontsize{13.8}{16}\selectfont,anchor=east] at (348pt,1005pt) {5 min};
\node[font=\fontsize{13.8}{16}\selectfont,anchor=east] at (348pt,917pt) {2 min};
\node[font=\fontsize{13.8}{16}\selectfont,anchor=east] at (347pt,843pt) {1 min};
\node[font=\fontsize{13.8}{16}\selectfont,anchor=east] at (345pt,749pt) {30 sec};
\node[font=\fontsize{13.8}{16}\selectfont] at (242pt,725.3pt) {C-CF};
\node[font=\fontsize{13.8}{16}\selectfont] at (283.3pt,708.7pt) {C-O-Si};
\node[font=\fontsize{13.8}{16}\selectfont] at (116.7pt,691.3pt) {CF\textsubscript{3}};
\node[font=\fontsize{13.8}{16}\selectfont] at (156pt,699.7pt) {CF\textsubscript{2}};
\node[font=\fontsize{13.8}{16}\selectfont] at (191pt,704.7pt) {CF};
\node[font=\fontsize{13.8}{16}\selectfont] at (300.8pt,689.7pt) {C-C};
% panel b
\node[font=\fb,anchor=east] at (741pt,1102pt) {20 min};
\node[font=\fb,anchor=east] at (737pt,997pt) {15 min};
\node[font=\fb,anchor=east] at (730pt,923pt) {5 min};
\node[font=\fb,anchor=east] at (733pt,855.3pt) {2 min};
\node[font=\fb,anchor=east] at (733pt,795.3pt) {1min};
\node[font=\fb,anchor=east] at (745pt,731pt) {30 sec};
\node[font=\fb] at (532.5pt,700.3pt) {CF};
\node[font=\fb] at (579.2pt,725.3pt) {CF\textsubscript{2}};
\node[font=\fb] at (617.2pt,726.3pt) {F-Si};
\node[font=\fb] at (676.2pt,698.3pt) {F\textsubscript{3}Si};
% panel c
\node[font=\fb,anchor=east] at (325pt,583pt) {20 min};
\node[font=\fb,anchor=east] at (326pt,506.3pt) {15 min};
\node[font=\fb,anchor=east] at (325pt,425.3pt) {5 min};
\node[font=\fb,anchor=east] at (321.7pt,325.3pt) {2 min};
\node[font=\fb,anchor=east] at (328pt,223.7pt) {1 min};
\node[font=\fb,anchor=east] at (333pt,114.3pt) {30 sec};
\node[font=\fb] at (197.3pt,103.3pt) {SiF/SiC};
\node[font=\fb] at (123.3pt,73.7pt) {SiO\textsubscript{2}};
\node[font=\fb] at (158.7pt,75.7pt) {SiF\textsubscript{3}};
\node[font=\fb] at (270.5pt,81pt) {Si};
% panel d
\node[font=\fb,anchor=east] at (703.3pt,579.7pt) {20 min};
\node[font=\fb,anchor=east] at (698pt,508.7pt) {15 min};
\node[font=\fb,anchor=east] at (690.7pt,439.7pt) {5 min};
\node[font=\fb,anchor=east] at (691.7pt,353pt) {2 min};
\node[font=\fb,anchor=east] at (694pt,255.3pt) {1 min};
\node[font=\fb,anchor=east] at (701.7pt,143.7pt) {30 sec};
\node[font=\fb] at (549.2pt,114.3pt) {SiO\textsubscript{2}};
\node[font=\fb] at (614.5pt,101pt) {Si-COH};
\node[font=\fb] at (516.7pt,78.7pt) {C-O-Si};
\end{scope}
\end{tikzpicture}
\end{document}
